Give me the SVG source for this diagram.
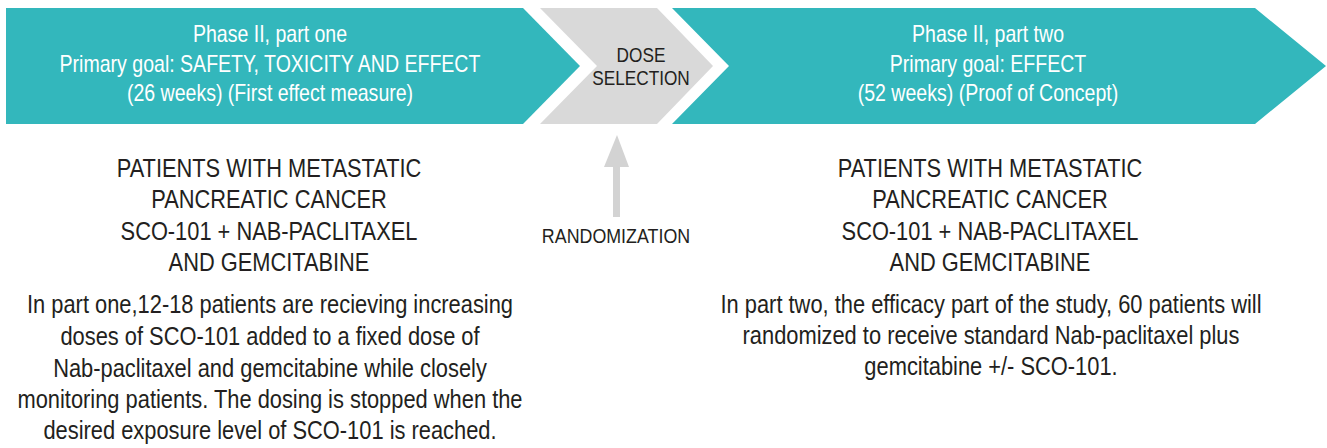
<svg xmlns="http://www.w3.org/2000/svg" width="1327" height="448" viewBox="0 0 1327 448">
<style>
text{font-family:"Liberation Sans",Arial,sans-serif;text-anchor:middle}
.teal{fill:#33b7bc}
.grey{fill:#d9d9d9}
.hdr{fill:#ffffff;font-size:23px}
.dose{fill:#231f20;font-size:21px}
.lbl{fill:#231f20;font-size:21px}
.big{fill:#231f20;font-size:25.5px}
.body{fill:#231f20;font-size:25px}
.arrow{fill:#d3d3d3}
</style>
<rect width="1327" height="448" fill="#ffffff"/>
<g id="phase1">
<polygon class="teal" points="6,8 523,8 580,66 523,124 6,124"/>
<g transform="translate(270 0) scale(0.85 1)">
<text class="hdr" x="0" y="42">Phase II, part one</text>
<text class="hdr" x="0" y="72">Primary goal: SAFETY, TOXICITY AND EFFECT</text>
<text class="hdr" x="0" y="101">(26 weeks) (First effect measure)</text>
</g>
</g>
<g id="dose-selection">
<polygon class="grey" points="540,8 657,8 713,66 657,124 540,124 597,66"/>
<g transform="translate(641 0) scale(0.82 1)">
<text class="dose" x="0" y="62">DOSE</text>
<text class="dose" x="0" y="85">SELECTION</text>
</g>
</g>
<g id="phase2">
<polygon class="teal" points="672,8 1255,8 1326,66 1255,124 672,124 729,66"/>
<g transform="translate(988 0) scale(0.85 1)">
<text class="hdr" x="0" y="42">Phase II, part two</text>
<text class="hdr" x="0" y="72">Primary goal: EFFECT</text>
<text class="hdr" x="0" y="101">(52 weeks) (Proof of Concept)</text>
</g>
</g>
<g id="randomization">
<g transform="translate(616 0) scale(0.85 1)">
<text class="lbl" x="0" y="243">RANDOMIZATION</text>
</g>
</g>
<g id="part1-text">
<g transform="translate(269 0) scale(0.856 1)">
<text class="big" x="0" y="177">PATIENTS WITH METASTATIC</text>
<text class="big" x="0" y="208">PANCREATIC CANCER</text>
<text class="big" x="0" y="240">SCO-101 + NAB-PACLITAXEL</text>
<text class="big" x="0" y="271">AND GEMCITABINE</text>
</g>
<g transform="translate(270 0) scale(0.875 1)">
<text class="body" x="0" y="313">In part one,12-18 patients are recieving increasing</text>
<text class="body" x="0" y="345">doses of SCO-101 added to a fixed dose of</text>
<text class="body" x="0" y="377">Nab-paclitaxel and gemcitabine while closely</text>
<text class="body" x="0" y="408">monitoring patients. The dosing is stopped when the</text>
<text class="body" x="0" y="439">desired exposure level of SCO-101 is reached.</text>
</g>
</g>
<g id="part2-text">
<g transform="translate(990 0) scale(0.856 1)">
<text class="big" x="0" y="177">PATIENTS WITH METASTATIC</text>
<text class="big" x="0" y="208">PANCREATIC CANCER</text>
<text class="big" x="0" y="240">SCO-101 + NAB-PACLITAXEL</text>
<text class="big" x="0" y="271">AND GEMCITABINE</text>
</g>
<g transform="translate(991 0) scale(0.875 1)">
<text class="body" x="0" y="313">In part two, the efficacy part of the study, 60 patients will</text>
<text class="body" x="0" y="344">randomized to receive standard Nab-paclitaxel plus</text>
<text class="body" x="0" y="375">gemcitabine +/- SCO-101.</text>
</g>
</g>
<g id="connectors">
<polygon class="arrow" points="617,135 629,167 620,167 620,217 613,217 613,167 604,167"/>
</g>
</svg>
